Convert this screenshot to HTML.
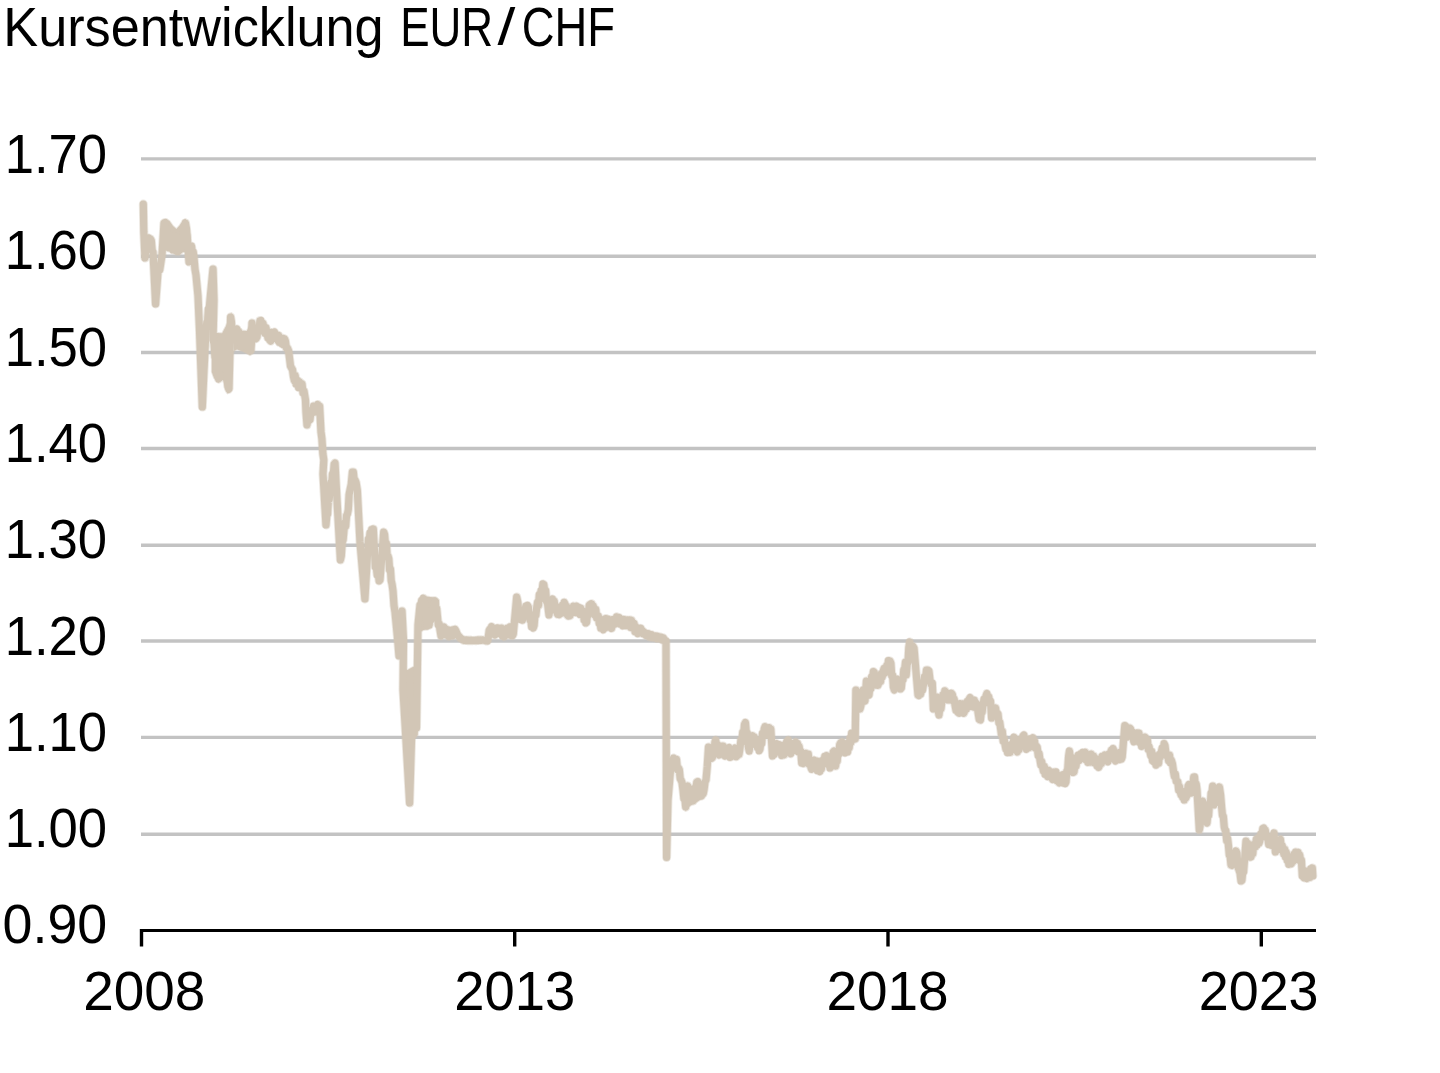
<!DOCTYPE html>
<html lang="de">
<head>
<meta charset="utf-8">
<title>Kursentwicklung EUR/CHF</title>
<style>
html,body{margin:0;padding:0;background:#fff;}
body{width:1440px;height:1073px;overflow:hidden;position:relative;}
svg{position:absolute;left:0;top:0;display:block;}
text{font-family:"Liberation Sans",Arial,sans-serif;fill:#000;}
</style>
</head>
<body>
<svg width="1440" height="1073" viewBox="0 0 1440 1073">
<g font-size="56">
<text transform="translate(3.33,46.1) scale(0.9331,1.000)">Kursentwicklung</text>
<text transform="translate(400.17,46.1) scale(0.7864,1.000)">EUR</text>
<text transform="translate(497.60,44.8) scale(1.1467,0.929)">/</text>
<text transform="translate(521.77,46.1) scale(0.8100,1.000)">CHF</text>
</g>
<g stroke="#c3c3c3" stroke-width="3.4" fill="none">
<line x1="141" y1="158.9" x2="1316" y2="158.9"/>
<line x1="141" y1="256.2" x2="1316" y2="256.2"/>
<line x1="141" y1="352.5" x2="1316" y2="352.5"/>
<line x1="141" y1="448.5" x2="1316" y2="448.5"/>
<line x1="141" y1="545.3" x2="1316" y2="545.3"/>
<line x1="141" y1="641.0" x2="1316" y2="641.0"/>
<line x1="141" y1="737.4" x2="1316" y2="737.4"/>
<line x1="141" y1="834.3" x2="1316" y2="834.3"/>
</g>
<g opacity="0.4">
<g stroke="#d2c6b6" stroke-width="1.8" stroke-linejoin="round">
<polygon fill="#d2c6b6" points="161.5,236 163,224 166.4,219 169.5,221 173,226 176.4,229 180,225 183,220 185.4,219 188.5,223 190.5,236 190.5,250 187,253 183,252 179.5,255 175.9,255 172,252.5 168,250.5 163.5,250 161.5,246"/>
<polygon fill="#d2c6b6" points="211.8,336 214,333 218,333 222,333.5 226,326 229,316 231.4,313 233.2,322 234,332 233.2,352 231.5,385 230.4,392.5 227.5,393.5 225.8,391 223,380 218.3,382.5 214,378 211.8,372"/>
<polygon fill="#d2c6b6" points="233,336 236,327.5 240,331 243.4,330.7 246.8,331 249,326 251.3,319.5 253,325 254.6,333 255.5,340 253,353.5 250,355.3 245,352.5 241.8,351 237,349.5 234,351"/>
<polygon fill="#d2c6b6" points="682.5,788 687.6,782.4 692,786 696.8,778.5 700,782 702,788 701.5,799 697,802 694,803.5 690,806 685.7,811 683,806"/>
<polygon fill="#d2c6b6" points="403,668 407.5,670 411,668 418.5,664 418.8,700 417.8,735 415.5,738 405,738 403.5,705"/>
<polygon fill="#d2c6b6" points="419.8,606 421.5,598.5 424.5,596.2 430,597 436,597.5 439,600 439.5,612 437,616 433.5,617 430,622 427,629.5 423.5,630 420.5,632"/>
</g>
<polyline fill="none" stroke="#d2c6b6" stroke-width="9.0" stroke-linejoin="round" stroke-linecap="round" points="143.3,204 143.8,232 145,258 146,248.3 147,245 147.9,246.4 148.8,237.9 149.6,243.3 150.5,239 151.3,240.6 152.2,250.5 153,252 155.6,304 158,272 158.8,267.5 159.7,270.1 160.5,265 162,255 164,223 165,222.5 166,232.8 167,232 168,237.5 169,248 170,244.9 171,236 172,240.5 173,250 174,246.8 175,236 176,239.9 177,251 178,246.9 179,238 180,239.3 181,249 182,244.6 183,232 183.8,226 184.7,228.9 185.5,223 186.5,228.9 187.5,240 189,262 189.8,258.6 190.7,248.6 191.5,246 192.3,252 193.2,251.8 194,258 195,269.3 196,275 198,296 199.5,330 202.3,407 204,370 206,330 206.8,322.1 207.6,321.2 208.4,308.9 209.2,309.1 210,300 213,269 214,300 213,340 214,343.4 215,356.9 216,360 216.8,363.6 217.7,375.6 218.5,379 220,350 221.4,337 222.3,338.6 223.1,348.1 224,350 226,370 227,372.1 228,386.9 229,389 230,350 230.6,317 231.4,321.5 232.2,335.3 233,340 234,333.8 235,336.1 236,330 236.9,329 237.8,335.4 238.6,331.2 239.5,336 240.7,344.6 241.8,347 243.4,334.5 245,345 245.9,336.5 246.8,335 247.9,343 249,345 250,343.4 251,350 252,323 253,330.9 254,328.7 255,335 256,338.7 257,337 257.9,329 258.9,331.9 259.9,320.7 260.8,320.5 261.9,326.1 262.9,323.1 264,328 265,333.2 266,327.6 267,333 267.9,337.9 268.8,335.4 269.7,340 270.7,341.1 271.6,332.4 272.6,338.4 273.6,333 274.5,332.1 275.3,338.3 276.1,334.6 277,338 277.8,340.5 278.6,335.4 279.4,342.4 280.2,337.7 281,341 281.9,343.8 282.8,338.3 283.6,344.7 284.5,338.7 285.4,341 286.4,348 287.5,348 288.5,350.5 289.5,358 290.5,366.1 291.5,368 292.5,369.8 293.5,377 294.4,380.7 295.2,375.4 296.1,384.1 297,382 297.8,380.5 298.6,387.6 299.4,381.7 300.2,387.6 301,386 302,383.7 303,392.9 304,391 305.5,400 306,412 307,425 308,419 309,418 310,419.8 311,410.6 312,411 312.8,412.6 313.6,406 314.4,412.1 315.2,406.3 316,408 316.9,409.7 317.8,404.5 318.7,409.6 319.6,406 321,432 321.9,438.7 322.9,453.9 323.8,460 323,474 326,525 326.8,515.6 327.6,514.2 328.4,499.9 329.2,499.6 330,490 330.8,482.7 331.7,484.9 332.5,473.8 333.3,474.6 334.2,464.1 335,463 337,500 340.4,560 341.3,556 342.2,542.2 343.1,539.9 344,530 344.9,522.8 345.7,526.1 346.5,515.7 347.4,514 348.3,509.6 349.1,494.6 350,490 351.2,484.5 352.4,472 353.3,472 354.1,479.5 355,480 356.1,482.6 357.3,490 360,542 364.9,599 368.4,539 369.2,540.7 370,532.9 370.9,537.6 371.7,529.5 372.5,533.8 373.3,529 375.3,567 376.2,566.4 377.2,575.1 378.1,572.2 379.1,580.9 380,580 383.7,532 384.6,534.7 385.4,544.3 386.3,543 387.1,554.6 388,556 388.8,558.8 389.6,570 390.4,568.8 391.2,580.6 392,584 393,591 394,605.5 395,612 397.7,640 399,656 402,611 403.5,640 403,690 406,740 409.6,803 411.5,740 413,700 414.5,720 415.5,720.8 416.5,728 417.5,660 418,625 420,605 420.8,606 421.7,600.4 422.5,605 423.4,598.2 424.2,600 425,608.6 425.9,610 426.7,622.8 427.5,626 428.3,620.3 429.2,625.2 430,615.8 430.9,620.1 431.7,615 432.5,609.4 433.4,610.4 434.2,602.6 435,601 435.8,609.7 436.7,608.6 437.5,617 438.3,624.8 439.2,623.7 440,630 441,636 442,635 443,627.8 444,627 445,634.7 446,635 447.1,629.6 448.3,630 449.1,636.6 450,636 451,630.5 452,630 453,635.8 454,635 455,629.3 456,631 457.1,633.8 458.3,636 459.2,636.6 460.1,637.9 461,638.5 462.1,639.1 463.3,640.2 464.1,640.5 465,640 465.8,640.5 466.6,640 467.5,640.6 468.3,640.1 469.1,640.6 470,640.1 470.8,640.7 471.6,640.2 472.5,640.7 473.3,640.5 474.1,640.3 475,640.7 475.8,640.2 476.6,640.6 477.5,640 478.3,640.5 479.1,639.9 480,640.4 480.8,639.9 481.6,640.3 482.5,639.9 483.3,640 484.1,640.4 485,640.2 485.8,640.9 486.7,640.7 487.5,641 488.3,637.2 489.2,630.3 490,629 490.8,631.8 491.6,626.6 492.4,634 493.2,628.6 494,632 494.9,635.1 495.7,628.4 496.6,633.1 497.4,627.9 498.3,630 499.1,633.5 500,628.3 500.8,634.1 501.6,628 502.5,636.1 503.3,629.9 504.2,636.8 505,634 505.8,630.3 506.6,635.1 507.5,628 508.3,629 509.1,632.4 510,626.8 510.8,635.5 511.6,628.4 512.5,635.7 513.3,634 516.7,597 517.9,602.6 519,615 519.9,619.3 520.8,616 521.7,620 522.5,620.2 523.4,611.1 524.2,615.7 525,610 525.8,606.2 526.6,612.6 527.5,605.4 528.3,607 529.1,615.7 530,620 530.8,619.4 531.6,626.8 532.5,623.8 533.3,628 534.1,625.5 535,614.3 535.9,615.4 536.7,607.5 537.6,602.1 538.5,605.6 539.3,594.7 540.2,599.2 541.1,590.7 542,592.6 542.9,583.9 543.8,584.5 544.7,591.4 545.6,590.1 546.6,601.6 547.5,603 549,615 549.9,608.5 550.8,610.8 551.6,600.9 552.5,599 553.3,603.7 554.2,600.9 555,609 555.9,605.9 556.7,611.7 557.5,614.3 558.4,609.8 559.2,614.7 560,613 560.8,608.6 561.7,613.2 562.5,605 563.3,610.5 564.2,602.3 565,604 565.8,610.4 566.6,606.4 567.5,615.2 568.3,616 569.1,611.9 570,615.8 570.8,609.5 571.7,613.1 572.5,609 573.3,606.1 574.2,611.9 575,606.6 575.8,612.5 576.6,606.1 577.5,612.6 578.3,610 579.1,607.5 580,614.5 580.8,608.1 581.7,614.8 582.5,612 583.3,611.4 584.1,620 585,616.9 585.8,623 586.6,622.4 587.5,613 588.3,615.1 589.2,605.3 590,604.5 590.8,608.8 591.6,603.7 592.4,611.2 593.2,605.7 594,610 594.9,615.1 595.8,609.4 596.6,618 597.5,617 598.3,615.9 599.2,623.4 600,618.8 600.8,628.2 601.7,623.2 602.5,628 603.3,629.7 604.2,622.6 605,628 605.8,618.5 606.7,624.8 607.5,620 608.3,619.2 609.2,627.2 610,626 610.8,622.9 611.6,628.4 612.4,619.7 613.2,625.2 614,622 614.9,619.3 615.7,623.9 616.6,616.8 617.4,622.8 618.3,619 619.1,617.5 620,623.9 620.9,619.5 621.7,624 622.6,625.8 623.5,619.5 624.4,625.6 625.2,619.7 626.1,625.7 627,622 627.9,620.1 628.8,625.4 629.7,620 630.6,627.4 631.5,620.2 632.4,627.8 633.3,625 634.1,623.3 635,631.7 635.9,626.8 636.7,632 637.5,633.5 638.4,628.3 639.2,633.2 640,630 640.8,628.3 641.7,632.7 642.5,630.7 643.3,633.8 644.2,632.2 645,634 645.8,635.3 646.7,633.5 647.5,635.9 648.4,633.7 649.2,636.8 650.1,634.7 650.9,637.3 651.8,634.7 652.6,637.6 653.5,635.7 654.3,637 655.1,637.9 655.9,636.1 656.7,638.6 657.6,636.3 658.4,638.6 659.2,636.7 660,638 660.8,639.1 661.6,637.3 662.4,640 663.2,637.8 664,639 665,641.2 666,641 666.6,857.5 668,800 670.7,768 671.7,762.2 672.7,765.9 673.6,758 674.6,759 675.6,764.3 676.5,759.4 677.5,769.7 678.5,768 679.3,769.7 680.2,778.7 681,780 682,782.5 683,790 683.9,798.5 684.8,797.9 685.7,807 687.6,786 688.8,794.5 690,795 690.8,793.2 691.6,799.5 692.4,794.7 693.2,801 694,799 694.9,789.5 695.9,790.1 696.8,782 697.8,781.6 698.8,790.9 699.7,789.1 700.7,795 701.5,796 702.4,788.9 703.2,793.7 704,790 705,782 706,780 707.2,767 708.5,747 709.5,753 710.5,749.8 711.4,758.5 712.4,757.6 713.2,751.1 714,752.1 714.9,742.1 715.7,740 716.5,746 717.4,744.2 718.2,753.8 719,755 720,749 721,752.1 722,746 723,746 724,755.3 725,756 726,750.6 727,754.2 728,748 729,747.5 730,757.3 731,757 732,750.7 733,755.8 734,750 735,748.1 736,756.7 737,756 738,749.6 739,754.5 740,748 740.9,740.1 741.8,742.4 742.7,732.3 743.6,735.1 744.5,724.3 745.4,722.5 746.4,733.6 747.3,732.8 748.2,746.3 749.2,751 750,744 750.9,744.7 751.7,737 752.5,735.7 753.4,741.5 754.2,736.8 755,741 755.8,744.9 756.7,739.9 757.5,747.5 758.3,743.3 759.2,750.7 760,749 760.8,743 761.7,743.7 762.5,733.4 763.4,736.4 764.2,729 765,726.6 765.9,733.5 766.7,729.3 767.5,733 768.3,735.1 769.1,727.7 770,733 770.8,729 772.5,756 773.3,751.9 774.2,754.6 775,747.7 775.8,750.7 776.7,743.6 777.5,744.5 778.3,749 779.2,744.6 780,752.3 780.8,748.8 781.7,755.5 782.5,755 783.3,749.6 784.2,754.9 785,744.5 785.8,748.9 786.6,741.9 787.5,745.5 788.3,740 789.1,743.3 790,752 790.8,753.8 791.7,746.4 792.5,751.2 793.3,743.4 794.2,747.9 795,744 795.8,742.1 796.7,748.3 797.5,743.4 798.3,751.9 799.1,746.3 800,752.6 800.8,751 801.7,763 802.5,758.6 803.4,763.5 804.2,756.5 805,760.5 805.8,753.3 806.7,757.2 807.5,754 808.3,754 809.1,764.3 810,760.7 810.8,767 811.6,769.3 812.5,761.5 813.3,767.1 814.2,760.1 815,762 815.8,766.2 816.6,761 817.4,770.6 818.2,766.2 819,770 819.8,771.6 820.6,763.1 821.4,769 822.2,760.5 823,762 823.9,764 824.8,756.4 825.7,763.6 826.6,755.5 827.5,758 828.3,764.5 829.2,761.5 830,768 830.8,767.1 831.6,757.5 832.4,760.2 833.2,752 834,751 834.8,761.1 835.6,766 836.4,760.3 837.2,761.3 838,751 838.9,754.2 839.7,744.6 840.5,743 841.4,748 842.3,742 843.2,749.8 844.1,744.6 845,752.8 845.9,747.7 846.8,752 847.6,751.9 848.4,742.7 849.2,747.8 850,738.1 850.8,742.9 851.6,733.2 852.4,734 853.3,737.9 854.3,734.1 855.2,739 855.9,690 856.7,696.8 857.5,694.8 858.4,704.5 859.2,703.2 860,709 861,705.3 862,693.3 863,690 864,698 865,701 866.4,681 867.3,683.3 868.1,693.8 869,695 869.9,687.4 870.8,688.9 871.6,676.8 872.5,679.2 873.4,671.5 874.3,672.4 875.1,683.5 876,685 877,680.1 878,685.3 879,681.7 879.8,677 880.6,681.6 881.4,673.5 882.2,677.2 883,672 884,668.4 885,673.2 886,669 886.8,665.3 887.6,669 888.4,660.7 889.2,664.5 890,661 890.9,663.3 891.7,675.7 892.6,675.1 893.4,687.2 894.3,690 895.2,684.7 896.1,687.9 897.1,679.2 898,680 898.8,684.8 899.6,681.2 900.5,689 901.3,688 902.1,680.4 903,679.9 903.8,669.6 904.7,669.2 905.5,662 906.2,675 907.1,664.5 908,662.2 908.8,647.6 909.7,642 910.9,651 912,652 913,646.3 914,648 918,695 918.9,695.5 919.8,687.5 920.7,694.1 921.6,685.9 922.5,690.3 923.4,685 924.4,676.9 925.5,678.2 926.5,670 927.8,670 928.9,670.9 930,680 931.1,684.3 932.3,683 933.4,709 934.2,703.2 935.1,707.1 935.9,696.9 936.8,697 937.9,709.2 939,715 940,705.8 941,708.9 942,700 942.9,694.8 943.9,698.5 944.8,690.8 945.7,692 946.5,696.6 947.4,693.3 948.2,700 949,700 949.9,695.8 950.7,699.8 951.5,693.2 952.4,694.5 953.3,701.1 954.1,698.8 955,705 956,710.3 957,706.6 958,712.5 959,713.1 960,703.7 961,705 961.9,709.6 962.9,703.8 963.8,713.3 964.7,711 965.6,705.3 966.5,709 967.4,701.3 968.3,705 969.2,699 970.1,697.5 971.1,706.3 972,705 972.8,702.2 973.6,707 974.4,700.2 975.2,706.1 976,703 977,704.1 978,712 979.2,719.5 980.4,720 981.3,711.8 982.1,712.3 983,705 984,699.2 985,703.2 986,696 986.9,693.4 987.8,702 988.7,696.6 989.6,702.2 990.5,701 991.6,718 992.8,711.2 994,710 994.8,713.2 995.6,708 996.4,714.3 997.2,713 998,713.9 998.9,722.8 999.7,722 1000.5,727.7 1001.4,734.3 1002.3,731.1 1003.2,741.3 1004.1,738.4 1005,744.5 1005.9,749.1 1006.7,745.5 1007.5,752.6 1008.4,752 1009.3,746.9 1010.2,752.4 1011.1,744.5 1012,745 1013,745.5 1014,737.2 1015,739 1016.1,749 1017.3,752 1018.2,746.3 1019.1,749.8 1020,745 1021,738.9 1022,741.8 1023,736 1023.9,735 1024.8,743.8 1025.6,739.7 1026.5,749.3 1027.4,748 1028.3,743.6 1029.2,747.7 1030.1,738.9 1031,744.4 1031.9,739 1032.8,737.7 1033.7,744.8 1034.5,740.7 1035.4,748.1 1036.3,746 1037.2,747.2 1038.2,755.5 1039.1,753.4 1040,760 1040.9,765.1 1041.7,761.5 1042.6,767 1043.4,771 1044.3,766.4 1045.1,774.3 1046,771.1 1046.8,775 1047.6,776.6 1048.5,770.3 1049.3,771 1050.1,775.7 1051,772.6 1051.8,778 1052.6,779.4 1053.4,772.2 1054.2,775.6 1055,772 1055.9,771.9 1056.8,780.7 1057.6,776.9 1058.5,782 1059.3,782.9 1060.2,775.8 1061.1,781.1 1061.9,777 1062.7,774.7 1063.5,783.1 1064.4,776 1065.2,783.6 1066,782 1066.8,771 1067.7,769.4 1068.6,756.3 1069.4,751 1070.3,758.3 1071.1,756.8 1072,765 1073,772.5 1074,772 1075,764.9 1076,766.3 1077,759 1078,755.3 1079,760.7 1080,757 1080.9,753.6 1081.8,758.8 1082.7,752.5 1083.6,757.6 1084.5,754 1085.3,752.2 1086.2,760.1 1087,754.3 1087.9,762.4 1088.7,761 1089.5,757.6 1090.3,762.2 1091.2,754 1092,756 1092.8,759.5 1093.6,756 1094.4,762.9 1095.2,758.1 1096,762 1096.9,765.8 1097.8,759.4 1098.7,767.4 1099.6,765 1100.4,760 1101.3,763.8 1102.1,756.3 1103,761 1103.8,756 1104.6,755 1105.4,760.5 1106.2,756 1107,760 1107.9,761.8 1108.8,754 1109.6,757.8 1110.5,753 1111.3,750.3 1112.2,755.7 1113.1,748.5 1113.9,751 1114.7,760 1115.5,761 1116.3,754.8 1117.2,759.3 1118,755 1118.8,752.6 1119.7,759.6 1120.5,753.1 1121.4,759.1 1122.2,757 1124.8,725.5 1125.6,725.9 1126.5,736.2 1127.3,737 1128.1,732.3 1128.9,736.3 1129.8,728 1130.6,729 1131.4,734.9 1132.2,731.8 1133,738 1133.9,741.8 1134.8,736.5 1135.7,741 1137.3,733 1138.2,738 1139,733.1 1139.8,742.8 1140.7,737.1 1141.6,746.4 1142.4,745 1143.2,739.9 1144.1,745 1144.9,737 1145.7,738 1146.6,743.9 1147.4,739.8 1148.3,749.5 1149.1,746.5 1150,752 1150.8,755.7 1151.7,751.3 1152.5,760.7 1153.4,755 1154.2,762.1 1155.1,758.3 1156,765.1 1156.8,764 1157.7,759 1158.6,763.3 1159.5,754.4 1160.4,757 1161.3,752 1162.2,748 1163.2,752.3 1164.1,743.6 1165,745.5 1165.9,753.1 1166.8,756 1167.7,754.6 1168.6,760.8 1169.5,755 1170.4,762.8 1171.3,760 1172.4,763.6 1173.6,772 1174.4,776.4 1175.3,773.8 1176.2,781.1 1177,781 1177.8,781.5 1178.7,790.2 1179.5,786.4 1180.3,792 1181.1,795 1181.9,791.1 1182.7,797.4 1183.5,792.8 1184.3,800 1185.1,794.8 1185.9,798 1187,795.3 1188.1,786 1188.9,784.5 1189.8,792.7 1190.7,788.9 1191.5,793 1192.6,789 1193.7,777 1194.5,776.9 1195.3,786.5 1196.2,784 1197,790 1199.3,830 1200.1,826.1 1200.9,812.3 1201.8,810.5 1202.6,801 1203.5,803.3 1204.4,813.9 1205.2,810.4 1206.1,821.3 1207,823 1207.8,815 1208.6,815.7 1209.4,804.3 1210.3,806 1211.1,793 1211.9,793.5 1212.7,786 1213.8,805 1214.6,800.6 1215.4,803.1 1216.2,794.3 1217,798.5 1217.8,788.5 1218.6,792.3 1219.4,787 1220.6,794.9 1221.7,808 1222.5,815.7 1223.3,816.1 1224.2,826.8 1225,830 1225.8,830.4 1226.7,840.8 1227.6,838.3 1228.4,845 1229.3,855.3 1230.1,855.9 1231,865 1231.8,865.4 1232.7,857.7 1233.5,861.8 1234.3,853.4 1235.2,856.6 1236,851 1237,853.4 1238,867.5 1239,870 1240,873 1241,881 1241.9,880.4 1242.7,871.8 1243.6,872 1246,841 1246.8,845.7 1247.7,843.1 1248.5,852.2 1249.3,847.6 1250.2,857.2 1251,857 1251.9,850.6 1252.8,853.9 1253.6,844.7 1254.5,845 1255.4,847 1256.3,839.3 1257.2,845 1258.2,837.8 1259.1,843.3 1260,840 1260.9,833.9 1261.8,837.3 1262.8,828.6 1263.7,828 1264.5,833.7 1265.3,830.1 1266.2,837.9 1267,838 1267.8,837.7 1268.7,844.4 1269.6,840.5 1270.4,845 1271.3,845.3 1272.2,836 1273.1,839.2 1274,833 1275.4,852 1276.2,847.5 1277.1,850.3 1277.9,841.6 1278.8,845.9 1279.6,840 1280.4,839.2 1281.3,848.5 1282.2,845.5 1283,850 1283.8,854 1284.7,849.2 1285.5,857.1 1286.3,852.4 1287.2,860.4 1288,856.3 1288.8,864.3 1289.7,858.4 1290.5,863 1291.3,863.8 1292.2,856.7 1293,861.6 1293.9,854.3 1294.7,859.2 1295.6,852 1296.4,853 1297.2,856.6 1298.1,852.3 1298.9,860.1 1299.7,854.9 1300.6,861.1 1301.4,860 1302.3,876 1303.2,872.1 1304.2,877.9 1305.1,870.7 1306,874 1307,878.5 1308,872.7 1309,877.5 1309.8,877.5 1310.7,868.9 1311.5,872.4 1312.3,868 1312.8,876"/>
</g>
<polygon fill="#d2c6b6" points="161.5,236 163,224 166.4,219 169.5,221 173,226 176.4,229 180,225 183,220 185.4,219 188.5,223 190.5,236 190.5,250 187,253 183,252 179.5,255 175.9,255 172,252.5 168,250.5 163.5,250 161.5,246"/>
<polygon fill="#d2c6b6" points="211.8,336 214,333 218,333 222,333.5 226,326 229,316 231.4,313 233.2,322 234,332 233.2,352 231.5,385 230.4,392.5 227.5,393.5 225.8,391 223,380 218.3,382.5 214,378 211.8,372"/>
<polygon fill="#d2c6b6" points="233,336 236,327.5 240,331 243.4,330.7 246.8,331 249,326 251.3,319.5 253,325 254.6,333 255.5,340 253,353.5 250,355.3 245,352.5 241.8,351 237,349.5 234,351"/>
<polygon fill="#d2c6b6" points="682.5,788 687.6,782.4 692,786 696.8,778.5 700,782 702,788 701.5,799 697,802 694,803.5 690,806 685.7,811 683,806"/>
<polygon fill="#d2c6b6" points="403,668 407.5,670 411,668 418.5,664 418.8,700 417.8,735 415.5,738 405,738 403.5,705"/>
<polygon fill="#d2c6b6" points="419.8,606 421.5,598.5 424.5,596.2 430,597 436,597.5 439,600 439.5,612 437,616 433.5,617 430,622 427,629.5 423.5,630 420.5,632"/>
<polyline fill="none" stroke="#d2c6b6" stroke-width="7.2" stroke-linejoin="round" stroke-linecap="round" points="143.3,204 143.8,232 145,258 146,248.3 147,245 147.9,246.4 148.8,237.9 149.6,243.3 150.5,239 151.3,240.6 152.2,250.5 153,252 155.6,304 158,272 158.8,267.5 159.7,270.1 160.5,265 162,255 164,223 165,222.5 166,232.8 167,232 168,237.5 169,248 170,244.9 171,236 172,240.5 173,250 174,246.8 175,236 176,239.9 177,251 178,246.9 179,238 180,239.3 181,249 182,244.6 183,232 183.8,226 184.7,228.9 185.5,223 186.5,228.9 187.5,240 189,262 189.8,258.6 190.7,248.6 191.5,246 192.3,252 193.2,251.8 194,258 195,269.3 196,275 198,296 199.5,330 202.3,407 204,370 206,330 206.8,322.1 207.6,321.2 208.4,308.9 209.2,309.1 210,300 213,269 214,300 213,340 214,343.4 215,356.9 216,360 216.8,363.6 217.7,375.6 218.5,379 220,350 221.4,337 222.3,338.6 223.1,348.1 224,350 226,370 227,372.1 228,386.9 229,389 230,350 230.6,317 231.4,321.5 232.2,335.3 233,340 234,333.8 235,336.1 236,330 236.9,329 237.8,335.4 238.6,331.2 239.5,336 240.7,344.6 241.8,347 243.4,334.5 245,345 245.9,336.5 246.8,335 247.9,343 249,345 250,343.4 251,350 252,323 253,330.9 254,328.7 255,335 256,338.7 257,337 257.9,329 258.9,331.9 259.9,320.7 260.8,320.5 261.9,326.1 262.9,323.1 264,328 265,333.2 266,327.6 267,333 267.9,337.9 268.8,335.4 269.7,340 270.7,341.1 271.6,332.4 272.6,338.4 273.6,333 274.5,332.1 275.3,338.3 276.1,334.6 277,338 277.8,340.5 278.6,335.4 279.4,342.4 280.2,337.7 281,341 281.9,343.8 282.8,338.3 283.6,344.7 284.5,338.7 285.4,341 286.4,348 287.5,348 288.5,350.5 289.5,358 290.5,366.1 291.5,368 292.5,369.8 293.5,377 294.4,380.7 295.2,375.4 296.1,384.1 297,382 297.8,380.5 298.6,387.6 299.4,381.7 300.2,387.6 301,386 302,383.7 303,392.9 304,391 305.5,400 306,412 307,425 308,419 309,418 310,419.8 311,410.6 312,411 312.8,412.6 313.6,406 314.4,412.1 315.2,406.3 316,408 316.9,409.7 317.8,404.5 318.7,409.6 319.6,406 321,432 321.9,438.7 322.9,453.9 323.8,460 323,474 326,525 326.8,515.6 327.6,514.2 328.4,499.9 329.2,499.6 330,490 330.8,482.7 331.7,484.9 332.5,473.8 333.3,474.6 334.2,464.1 335,463 337,500 340.4,560 341.3,556 342.2,542.2 343.1,539.9 344,530 344.9,522.8 345.7,526.1 346.5,515.7 347.4,514 348.3,509.6 349.1,494.6 350,490 351.2,484.5 352.4,472 353.3,472 354.1,479.5 355,480 356.1,482.6 357.3,490 360,542 364.9,599 368.4,539 369.2,540.7 370,532.9 370.9,537.6 371.7,529.5 372.5,533.8 373.3,529 375.3,567 376.2,566.4 377.2,575.1 378.1,572.2 379.1,580.9 380,580 383.7,532 384.6,534.7 385.4,544.3 386.3,543 387.1,554.6 388,556 388.8,558.8 389.6,570 390.4,568.8 391.2,580.6 392,584 393,591 394,605.5 395,612 397.7,640 399,656 402,611 403.5,640 403,690 406,740 409.6,803 411.5,740 413,700 414.5,720 415.5,720.8 416.5,728 417.5,660 418,625 420,605 420.8,606 421.7,600.4 422.5,605 423.4,598.2 424.2,600 425,608.6 425.9,610 426.7,622.8 427.5,626 428.3,620.3 429.2,625.2 430,615.8 430.9,620.1 431.7,615 432.5,609.4 433.4,610.4 434.2,602.6 435,601 435.8,609.7 436.7,608.6 437.5,617 438.3,624.8 439.2,623.7 440,630 441,636 442,635 443,627.8 444,627 445,634.7 446,635 447.1,629.6 448.3,630 449.1,636.6 450,636 451,630.5 452,630 453,635.8 454,635 455,629.3 456,631 457.1,633.8 458.3,636 459.2,636.6 460.1,637.9 461,638.5 462.1,639.1 463.3,640.2 464.1,640.5 465,640 465.8,640.5 466.6,640 467.5,640.6 468.3,640.1 469.1,640.6 470,640.1 470.8,640.7 471.6,640.2 472.5,640.7 473.3,640.5 474.1,640.3 475,640.7 475.8,640.2 476.6,640.6 477.5,640 478.3,640.5 479.1,639.9 480,640.4 480.8,639.9 481.6,640.3 482.5,639.9 483.3,640 484.1,640.4 485,640.2 485.8,640.9 486.7,640.7 487.5,641 488.3,637.2 489.2,630.3 490,629 490.8,631.8 491.6,626.6 492.4,634 493.2,628.6 494,632 494.9,635.1 495.7,628.4 496.6,633.1 497.4,627.9 498.3,630 499.1,633.5 500,628.3 500.8,634.1 501.6,628 502.5,636.1 503.3,629.9 504.2,636.8 505,634 505.8,630.3 506.6,635.1 507.5,628 508.3,629 509.1,632.4 510,626.8 510.8,635.5 511.6,628.4 512.5,635.7 513.3,634 516.7,597 517.9,602.6 519,615 519.9,619.3 520.8,616 521.7,620 522.5,620.2 523.4,611.1 524.2,615.7 525,610 525.8,606.2 526.6,612.6 527.5,605.4 528.3,607 529.1,615.7 530,620 530.8,619.4 531.6,626.8 532.5,623.8 533.3,628 534.1,625.5 535,614.3 535.9,615.4 536.7,607.5 537.6,602.1 538.5,605.6 539.3,594.7 540.2,599.2 541.1,590.7 542,592.6 542.9,583.9 543.8,584.5 544.7,591.4 545.6,590.1 546.6,601.6 547.5,603 549,615 549.9,608.5 550.8,610.8 551.6,600.9 552.5,599 553.3,603.7 554.2,600.9 555,609 555.9,605.9 556.7,611.7 557.5,614.3 558.4,609.8 559.2,614.7 560,613 560.8,608.6 561.7,613.2 562.5,605 563.3,610.5 564.2,602.3 565,604 565.8,610.4 566.6,606.4 567.5,615.2 568.3,616 569.1,611.9 570,615.8 570.8,609.5 571.7,613.1 572.5,609 573.3,606.1 574.2,611.9 575,606.6 575.8,612.5 576.6,606.1 577.5,612.6 578.3,610 579.1,607.5 580,614.5 580.8,608.1 581.7,614.8 582.5,612 583.3,611.4 584.1,620 585,616.9 585.8,623 586.6,622.4 587.5,613 588.3,615.1 589.2,605.3 590,604.5 590.8,608.8 591.6,603.7 592.4,611.2 593.2,605.7 594,610 594.9,615.1 595.8,609.4 596.6,618 597.5,617 598.3,615.9 599.2,623.4 600,618.8 600.8,628.2 601.7,623.2 602.5,628 603.3,629.7 604.2,622.6 605,628 605.8,618.5 606.7,624.8 607.5,620 608.3,619.2 609.2,627.2 610,626 610.8,622.9 611.6,628.4 612.4,619.7 613.2,625.2 614,622 614.9,619.3 615.7,623.9 616.6,616.8 617.4,622.8 618.3,619 619.1,617.5 620,623.9 620.9,619.5 621.7,624 622.6,625.8 623.5,619.5 624.4,625.6 625.2,619.7 626.1,625.7 627,622 627.9,620.1 628.8,625.4 629.7,620 630.6,627.4 631.5,620.2 632.4,627.8 633.3,625 634.1,623.3 635,631.7 635.9,626.8 636.7,632 637.5,633.5 638.4,628.3 639.2,633.2 640,630 640.8,628.3 641.7,632.7 642.5,630.7 643.3,633.8 644.2,632.2 645,634 645.8,635.3 646.7,633.5 647.5,635.9 648.4,633.7 649.2,636.8 650.1,634.7 650.9,637.3 651.8,634.7 652.6,637.6 653.5,635.7 654.3,637 655.1,637.9 655.9,636.1 656.7,638.6 657.6,636.3 658.4,638.6 659.2,636.7 660,638 660.8,639.1 661.6,637.3 662.4,640 663.2,637.8 664,639 665,641.2 666,641 666.6,857.5 668,800 670.7,768 671.7,762.2 672.7,765.9 673.6,758 674.6,759 675.6,764.3 676.5,759.4 677.5,769.7 678.5,768 679.3,769.7 680.2,778.7 681,780 682,782.5 683,790 683.9,798.5 684.8,797.9 685.7,807 687.6,786 688.8,794.5 690,795 690.8,793.2 691.6,799.5 692.4,794.7 693.2,801 694,799 694.9,789.5 695.9,790.1 696.8,782 697.8,781.6 698.8,790.9 699.7,789.1 700.7,795 701.5,796 702.4,788.9 703.2,793.7 704,790 705,782 706,780 707.2,767 708.5,747 709.5,753 710.5,749.8 711.4,758.5 712.4,757.6 713.2,751.1 714,752.1 714.9,742.1 715.7,740 716.5,746 717.4,744.2 718.2,753.8 719,755 720,749 721,752.1 722,746 723,746 724,755.3 725,756 726,750.6 727,754.2 728,748 729,747.5 730,757.3 731,757 732,750.7 733,755.8 734,750 735,748.1 736,756.7 737,756 738,749.6 739,754.5 740,748 740.9,740.1 741.8,742.4 742.7,732.3 743.6,735.1 744.5,724.3 745.4,722.5 746.4,733.6 747.3,732.8 748.2,746.3 749.2,751 750,744 750.9,744.7 751.7,737 752.5,735.7 753.4,741.5 754.2,736.8 755,741 755.8,744.9 756.7,739.9 757.5,747.5 758.3,743.3 759.2,750.7 760,749 760.8,743 761.7,743.7 762.5,733.4 763.4,736.4 764.2,729 765,726.6 765.9,733.5 766.7,729.3 767.5,733 768.3,735.1 769.1,727.7 770,733 770.8,729 772.5,756 773.3,751.9 774.2,754.6 775,747.7 775.8,750.7 776.7,743.6 777.5,744.5 778.3,749 779.2,744.6 780,752.3 780.8,748.8 781.7,755.5 782.5,755 783.3,749.6 784.2,754.9 785,744.5 785.8,748.9 786.6,741.9 787.5,745.5 788.3,740 789.1,743.3 790,752 790.8,753.8 791.7,746.4 792.5,751.2 793.3,743.4 794.2,747.9 795,744 795.8,742.1 796.7,748.3 797.5,743.4 798.3,751.9 799.1,746.3 800,752.6 800.8,751 801.7,763 802.5,758.6 803.4,763.5 804.2,756.5 805,760.5 805.8,753.3 806.7,757.2 807.5,754 808.3,754 809.1,764.3 810,760.7 810.8,767 811.6,769.3 812.5,761.5 813.3,767.1 814.2,760.1 815,762 815.8,766.2 816.6,761 817.4,770.6 818.2,766.2 819,770 819.8,771.6 820.6,763.1 821.4,769 822.2,760.5 823,762 823.9,764 824.8,756.4 825.7,763.6 826.6,755.5 827.5,758 828.3,764.5 829.2,761.5 830,768 830.8,767.1 831.6,757.5 832.4,760.2 833.2,752 834,751 834.8,761.1 835.6,766 836.4,760.3 837.2,761.3 838,751 838.9,754.2 839.7,744.6 840.5,743 841.4,748 842.3,742 843.2,749.8 844.1,744.6 845,752.8 845.9,747.7 846.8,752 847.6,751.9 848.4,742.7 849.2,747.8 850,738.1 850.8,742.9 851.6,733.2 852.4,734 853.3,737.9 854.3,734.1 855.2,739 855.9,690 856.7,696.8 857.5,694.8 858.4,704.5 859.2,703.2 860,709 861,705.3 862,693.3 863,690 864,698 865,701 866.4,681 867.3,683.3 868.1,693.8 869,695 869.9,687.4 870.8,688.9 871.6,676.8 872.5,679.2 873.4,671.5 874.3,672.4 875.1,683.5 876,685 877,680.1 878,685.3 879,681.7 879.8,677 880.6,681.6 881.4,673.5 882.2,677.2 883,672 884,668.4 885,673.2 886,669 886.8,665.3 887.6,669 888.4,660.7 889.2,664.5 890,661 890.9,663.3 891.7,675.7 892.6,675.1 893.4,687.2 894.3,690 895.2,684.7 896.1,687.9 897.1,679.2 898,680 898.8,684.8 899.6,681.2 900.5,689 901.3,688 902.1,680.4 903,679.9 903.8,669.6 904.7,669.2 905.5,662 906.2,675 907.1,664.5 908,662.2 908.8,647.6 909.7,642 910.9,651 912,652 913,646.3 914,648 918,695 918.9,695.5 919.8,687.5 920.7,694.1 921.6,685.9 922.5,690.3 923.4,685 924.4,676.9 925.5,678.2 926.5,670 927.8,670 928.9,670.9 930,680 931.1,684.3 932.3,683 933.4,709 934.2,703.2 935.1,707.1 935.9,696.9 936.8,697 937.9,709.2 939,715 940,705.8 941,708.9 942,700 942.9,694.8 943.9,698.5 944.8,690.8 945.7,692 946.5,696.6 947.4,693.3 948.2,700 949,700 949.9,695.8 950.7,699.8 951.5,693.2 952.4,694.5 953.3,701.1 954.1,698.8 955,705 956,710.3 957,706.6 958,712.5 959,713.1 960,703.7 961,705 961.9,709.6 962.9,703.8 963.8,713.3 964.7,711 965.6,705.3 966.5,709 967.4,701.3 968.3,705 969.2,699 970.1,697.5 971.1,706.3 972,705 972.8,702.2 973.6,707 974.4,700.2 975.2,706.1 976,703 977,704.1 978,712 979.2,719.5 980.4,720 981.3,711.8 982.1,712.3 983,705 984,699.2 985,703.2 986,696 986.9,693.4 987.8,702 988.7,696.6 989.6,702.2 990.5,701 991.6,718 992.8,711.2 994,710 994.8,713.2 995.6,708 996.4,714.3 997.2,713 998,713.9 998.9,722.8 999.7,722 1000.5,727.7 1001.4,734.3 1002.3,731.1 1003.2,741.3 1004.1,738.4 1005,744.5 1005.9,749.1 1006.7,745.5 1007.5,752.6 1008.4,752 1009.3,746.9 1010.2,752.4 1011.1,744.5 1012,745 1013,745.5 1014,737.2 1015,739 1016.1,749 1017.3,752 1018.2,746.3 1019.1,749.8 1020,745 1021,738.9 1022,741.8 1023,736 1023.9,735 1024.8,743.8 1025.6,739.7 1026.5,749.3 1027.4,748 1028.3,743.6 1029.2,747.7 1030.1,738.9 1031,744.4 1031.9,739 1032.8,737.7 1033.7,744.8 1034.5,740.7 1035.4,748.1 1036.3,746 1037.2,747.2 1038.2,755.5 1039.1,753.4 1040,760 1040.9,765.1 1041.7,761.5 1042.6,767 1043.4,771 1044.3,766.4 1045.1,774.3 1046,771.1 1046.8,775 1047.6,776.6 1048.5,770.3 1049.3,771 1050.1,775.7 1051,772.6 1051.8,778 1052.6,779.4 1053.4,772.2 1054.2,775.6 1055,772 1055.9,771.9 1056.8,780.7 1057.6,776.9 1058.5,782 1059.3,782.9 1060.2,775.8 1061.1,781.1 1061.9,777 1062.7,774.7 1063.5,783.1 1064.4,776 1065.2,783.6 1066,782 1066.8,771 1067.7,769.4 1068.6,756.3 1069.4,751 1070.3,758.3 1071.1,756.8 1072,765 1073,772.5 1074,772 1075,764.9 1076,766.3 1077,759 1078,755.3 1079,760.7 1080,757 1080.9,753.6 1081.8,758.8 1082.7,752.5 1083.6,757.6 1084.5,754 1085.3,752.2 1086.2,760.1 1087,754.3 1087.9,762.4 1088.7,761 1089.5,757.6 1090.3,762.2 1091.2,754 1092,756 1092.8,759.5 1093.6,756 1094.4,762.9 1095.2,758.1 1096,762 1096.9,765.8 1097.8,759.4 1098.7,767.4 1099.6,765 1100.4,760 1101.3,763.8 1102.1,756.3 1103,761 1103.8,756 1104.6,755 1105.4,760.5 1106.2,756 1107,760 1107.9,761.8 1108.8,754 1109.6,757.8 1110.5,753 1111.3,750.3 1112.2,755.7 1113.1,748.5 1113.9,751 1114.7,760 1115.5,761 1116.3,754.8 1117.2,759.3 1118,755 1118.8,752.6 1119.7,759.6 1120.5,753.1 1121.4,759.1 1122.2,757 1124.8,725.5 1125.6,725.9 1126.5,736.2 1127.3,737 1128.1,732.3 1128.9,736.3 1129.8,728 1130.6,729 1131.4,734.9 1132.2,731.8 1133,738 1133.9,741.8 1134.8,736.5 1135.7,741 1137.3,733 1138.2,738 1139,733.1 1139.8,742.8 1140.7,737.1 1141.6,746.4 1142.4,745 1143.2,739.9 1144.1,745 1144.9,737 1145.7,738 1146.6,743.9 1147.4,739.8 1148.3,749.5 1149.1,746.5 1150,752 1150.8,755.7 1151.7,751.3 1152.5,760.7 1153.4,755 1154.2,762.1 1155.1,758.3 1156,765.1 1156.8,764 1157.7,759 1158.6,763.3 1159.5,754.4 1160.4,757 1161.3,752 1162.2,748 1163.2,752.3 1164.1,743.6 1165,745.5 1165.9,753.1 1166.8,756 1167.7,754.6 1168.6,760.8 1169.5,755 1170.4,762.8 1171.3,760 1172.4,763.6 1173.6,772 1174.4,776.4 1175.3,773.8 1176.2,781.1 1177,781 1177.8,781.5 1178.7,790.2 1179.5,786.4 1180.3,792 1181.1,795 1181.9,791.1 1182.7,797.4 1183.5,792.8 1184.3,800 1185.1,794.8 1185.9,798 1187,795.3 1188.1,786 1188.9,784.5 1189.8,792.7 1190.7,788.9 1191.5,793 1192.6,789 1193.7,777 1194.5,776.9 1195.3,786.5 1196.2,784 1197,790 1199.3,830 1200.1,826.1 1200.9,812.3 1201.8,810.5 1202.6,801 1203.5,803.3 1204.4,813.9 1205.2,810.4 1206.1,821.3 1207,823 1207.8,815 1208.6,815.7 1209.4,804.3 1210.3,806 1211.1,793 1211.9,793.5 1212.7,786 1213.8,805 1214.6,800.6 1215.4,803.1 1216.2,794.3 1217,798.5 1217.8,788.5 1218.6,792.3 1219.4,787 1220.6,794.9 1221.7,808 1222.5,815.7 1223.3,816.1 1224.2,826.8 1225,830 1225.8,830.4 1226.7,840.8 1227.6,838.3 1228.4,845 1229.3,855.3 1230.1,855.9 1231,865 1231.8,865.4 1232.7,857.7 1233.5,861.8 1234.3,853.4 1235.2,856.6 1236,851 1237,853.4 1238,867.5 1239,870 1240,873 1241,881 1241.9,880.4 1242.7,871.8 1243.6,872 1246,841 1246.8,845.7 1247.7,843.1 1248.5,852.2 1249.3,847.6 1250.2,857.2 1251,857 1251.9,850.6 1252.8,853.9 1253.6,844.7 1254.5,845 1255.4,847 1256.3,839.3 1257.2,845 1258.2,837.8 1259.1,843.3 1260,840 1260.9,833.9 1261.8,837.3 1262.8,828.6 1263.7,828 1264.5,833.7 1265.3,830.1 1266.2,837.9 1267,838 1267.8,837.7 1268.7,844.4 1269.6,840.5 1270.4,845 1271.3,845.3 1272.2,836 1273.1,839.2 1274,833 1275.4,852 1276.2,847.5 1277.1,850.3 1277.9,841.6 1278.8,845.9 1279.6,840 1280.4,839.2 1281.3,848.5 1282.2,845.5 1283,850 1283.8,854 1284.7,849.2 1285.5,857.1 1286.3,852.4 1287.2,860.4 1288,856.3 1288.8,864.3 1289.7,858.4 1290.5,863 1291.3,863.8 1292.2,856.7 1293,861.6 1293.9,854.3 1294.7,859.2 1295.6,852 1296.4,853 1297.2,856.6 1298.1,852.3 1298.9,860.1 1299.7,854.9 1300.6,861.1 1301.4,860 1302.3,876 1303.2,872.1 1304.2,877.9 1305.1,870.7 1306,874 1307,878.5 1308,872.7 1309,877.5 1309.8,877.5 1310.7,868.9 1311.5,872.4 1312.3,868 1312.8,876"/>
<g stroke="#000" stroke-width="3" fill="none">
<line x1="140" y1="930.5" x2="1316" y2="930.5"/>
</g>
<g stroke="#000" stroke-width="3.4" fill="none">
<line x1="141.5" y1="929" x2="141.5" y2="946.5"/>
<line x1="514.7" y1="929" x2="514.7" y2="946.5"/>
<line x1="888.0" y1="929" x2="888.0" y2="946.5"/>
<line x1="1261.3" y1="929" x2="1261.3" y2="946.5"/>
</g>
<g font-size="56">
<text transform="translate(4.64,173.4) scale(0.9408,1.000)">1.70</text>
<text transform="translate(4.64,268.8) scale(0.9408,1.000)">1.60</text>
<text transform="translate(4.64,366.2) scale(0.9408,1.000)">1.50</text>
<text transform="translate(4.64,461.9) scale(0.9408,1.000)">1.40</text>
<text transform="translate(4.64,558.4) scale(0.9408,1.000)">1.30</text>
<text transform="translate(4.64,655.3) scale(0.9408,1.000)">1.20</text>
<text transform="translate(4.64,750.7) scale(0.9408,1.000)">1.10</text>
<text transform="translate(4.64,846.8) scale(0.9408,1.000)">1.00</text>
<text transform="translate(2.58,942.5) scale(0.9600,1.000)">0.90</text>
</g>
<g font-size="56">
<text transform="translate(83.16,1010.2) scale(0.9807,1.000)">2008</text>
<text transform="translate(454.29,1010.2) scale(0.9714,1.000)">2013</text>
<text transform="translate(826.46,1010.2) scale(0.9807,1.000)">2018</text>
<text transform="translate(1198.82,1010.2) scale(0.9613,1.000)">2023</text>
</g>
</svg>
</body>
</html>
